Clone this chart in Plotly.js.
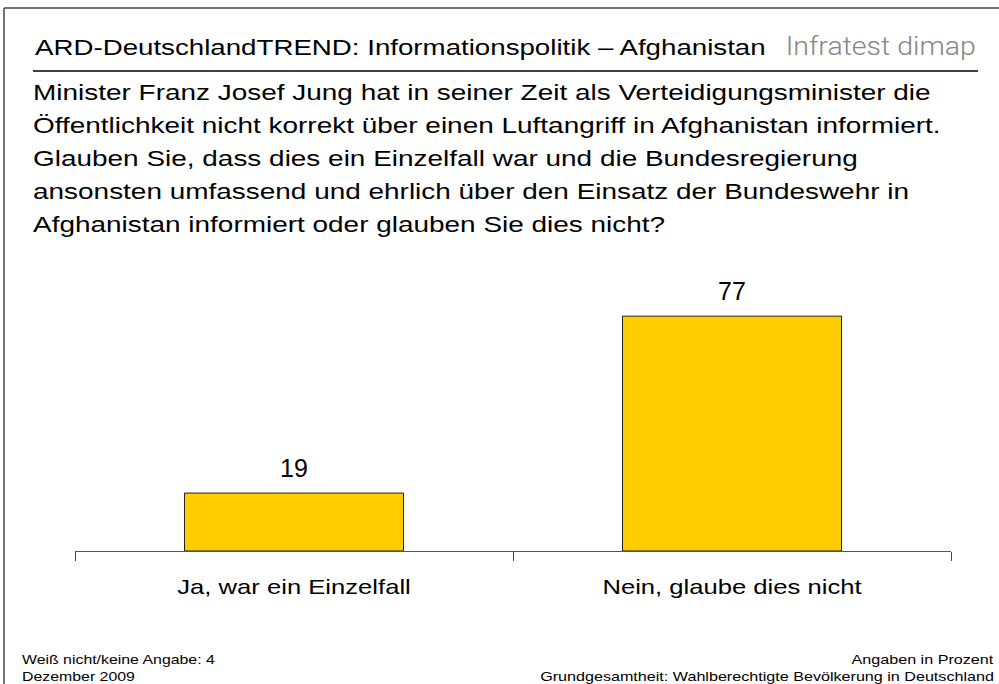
<!DOCTYPE html>
<html><head><meta charset="utf-8">
<script src="https://cdn.plot.ly/plotly-3.0.1.min.js"></script>
<style>html,body{margin:0;padding:0;background:#fff}#c{width:999px;height:684px}</style>
</head><body><div id="c"></div>
<script>
const categories = ["Ja, war ein Einzelfall", "Nein, glaube dies nicht"];
const values = [19, 77];
const titleText = "ARD-DeutschlandTREND: Informationspolitik – Afghanistan";
const brandText = "Infratest dimap";
const questionLines = [
  "Minister Franz Josef Jung hat in seiner Zeit als Verteidigungsminister die",
  "Öffentlichkeit nicht korrekt über einen Luftangriff in Afghanistan informiert.",
  "Glauben Sie, dass dies ein Einzelfall war und die Bundesregierung",
  "ansonsten umfassend und ehrlich über den Einsatz der Bundeswehr in",
  "Afghanistan informiert oder glauben Sie dies nicht?"
];
const footLeft = ["Weiß nicht/keine Angabe: 4", "Dezember 2009"];
const footRight = ["Angaben in Prozent", "Grundgesamtheit: Wahlberechtigte Bevölkerung in Deutschland"];

const W = 999, H = 684;
const mL = 75, mR = 48, mT = 246, mB = 133;
const pw = W - mL - mR, ph = H - mT - mB;
const px = x => (x - mL) / pw;
const py = y => (H - mB - y) / ph;

const F = "Liberation Sans, Arial, sans-serif";
const ann = [];
const stretch = {};   // annotation index -> horizontal stretch factor
function addAnn(o, k) { if (k) stretch[ann.length] = k; ann.push(o); }

addAnn({xref:'paper', yref:'paper', x:px(33), y:py(47.5), xanchor:'left', yanchor:'middle', align:'left',
  text:titleText, showarrow:false, font:{family:F, size:22.5, color:'#000'}}, 1.23);
addAnn({xref:'paper', yref:'paper', x:px(978), y:py(47), xanchor:'right', yanchor:'middle', align:'right',
  text:brandText, showarrow:false,
  font:{family:"Roboto, sans-serif", weight:300, size:25, color:'#858585'}}, 1.14);
questionLines.forEach((t,i)=>{
  addAnn({xref:'paper', yref:'paper', x:px(31), y:py(92.5 + 33*i), xanchor:'left', yanchor:'middle', align:'left',
    text:t, showarrow:false, font:{family:F, size:22, color:'#000'}}, 1.27);
});
footLeft.forEach((t,i)=>{
  addAnn({xref:'paper', yref:'paper', x:px(20), y:py(659 + 17*i), xanchor:'left', yanchor:'middle', align:'left',
    text:t, showarrow:false, font:{family:F, size:13, color:'#000'}}, 1.22);
});
footRight.forEach((t,i)=>{
  addAnn({xref:'paper', yref:'paper', x:px(996), y:py(659 + 17*i), xanchor:'right', yanchor:'middle', align:'right',
    text:t, showarrow:false, font:{family:F, size:13, color:'#000'}}, 1.24);
});
// value labels above bars, positioned through the data axes
categories.forEach((c,i)=>{
  addAnn({xref:'x', yref:'y', x:c, y:values[i], xanchor:'center', yanchor:'bottom', yshift:9,
    text:String(values[i]), showarrow:false, font:{family:F, size:25, color:'#000'}});
});

const shapes = [
  {type:'line', xref:'paper', yref:'paper', x0:px(33), x1:px(978), y0:py(71), y1:py(71), line:{color:'#000', width:1.5}},
  {type:'line', xref:'paper', yref:'paper', x0:px(4), x1:px(4), y0:py(8), y1:py(690), line:{color:'#444', width:1.5}},
  {type:'line', xref:'paper', yref:'paper', x0:px(4), x1:px(1005), y0:py(8), y1:py(8), line:{color:'#444', width:1.5}}
];

Plotly.newPlot('c', [{
  type:'bar', x:categories, y:values,
  marker:{color:'#FFCC00', line:{color:'#222', width:1}}, hoverinfo:'none'
}], {
  width:W, height:H, margin:{l:mL, r:mR, t:mT, b:mB},
  paper_bgcolor:'#fff', plot_bgcolor:'#fff', showlegend:false, bargap:0.5,
  xaxis:{showline:true, linecolor:'#555', linewidth:1, ticks:'outside', tickson:'boundaries',
    ticklen:9, tickcolor:'#444', ticklabelstandoff:17,
    tickfont:{family:F, size:21, color:'#000'}, showgrid:false, fixedrange:true},
  yaxis:{range:[0,100], visible:false, fixedrange:true},
  annotations:ann, shapes:shapes
}, {staticPlot:true}).then(gd => {
  const widen = (el, k) => {
    const L = el.getComputedTextLength();
    el.setAttribute('textLength', (L * k).toFixed(2));
    el.setAttribute('lengthAdjust', 'spacingAndGlyphs');
  };
  gd.querySelectorAll('g.annotation').forEach(g => {
    const idx = +g.getAttribute('data-index');
    const k = stretch[idx];
    const t = g.querySelector('text.annotation-text');
    if (k && t) widen(t, k);
  });
  gd.querySelectorAll('.xtick text').forEach(t => widen(t, 1.22));
});
</script></body></html>
